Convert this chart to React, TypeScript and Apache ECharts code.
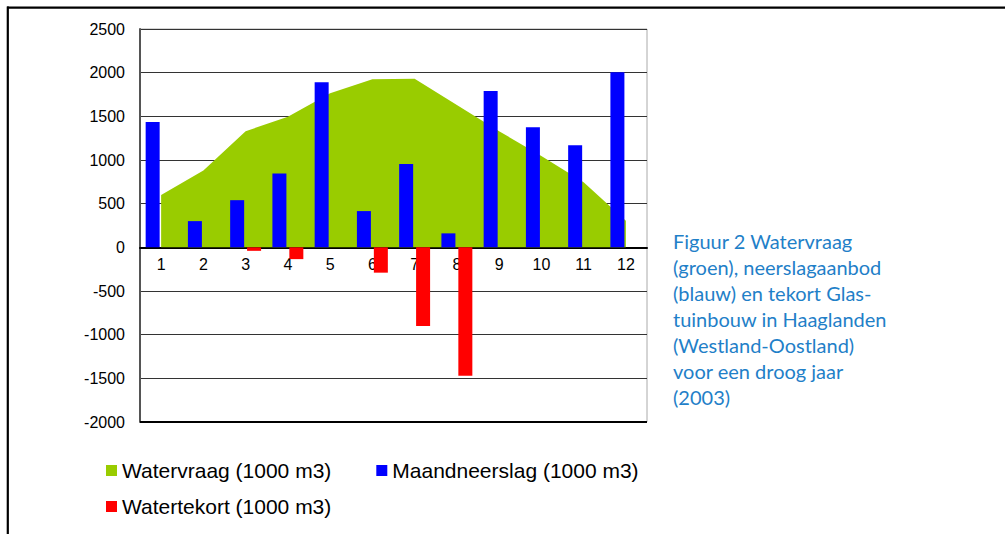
import React, { useEffect, useRef } from "react";
import * as echarts from "echarts";

const months = ["1", "2", "3", "4", "5", "6", "7", "8", "9", "10", "11", "12"];
const watervraag = [600, 880, 1330, 1495, 1765, 1925, 1930, 1630, 1330, 1045, 745, 305];
const maandneerslag = [1435, 300, 540, 845, 1890, 415, 955, 160, 1790, 1375, 1170, 2005];
const watertekort = [0, 0, -40, -135, 0, -290, -900, -1470, 0, 0, 0, 0];
const yMin = -2000;
const yMax = 2500;
const yStep = 500;
const seriesNames = ["Watervraag (1000 m3)", "Maandneerslag (1000 m3)", "Watertekort (1000 m3)"];
const captionLines = [
  "Figuur 2 Watervraag",
  "(groen), neerslagaanbod",
  "(blauw) en tekort Glas-",
  "tuinbouw in Haaglanden",
  "(Westland-Oostland)",
  "voor een droog jaar",
  "(2003)",
];

const FONT = "'Liberation Sans', Arial, sans-serif";

const GRID_TOP = 29;
const GRID_BOTTOM = 112;
const CHART_H = 534;

export default function App() {
  const ref = useRef<HTMLDivElement>(null);
  useEffect(() => {
    document.body.style.margin = "0";
    if (!ref.current) return;
    const chart = echarts.init(ref.current, null, { renderer: "svg" });
    const legendText = { fontSize: 21, fontFamily: FONT, color: "#000" };
    const plotH = CHART_H - GRID_TOP - GRID_BOTTOM;
    const zeroOffset = -(plotH * (0 - yMin)) / (yMax - yMin);
    chart.setOption({
      animation: false,
      backgroundColor: "#fff",
      grid: {
        left: 140,
        top: GRID_TOP,
        right: 358,
        bottom: GRID_BOTTOM,
        show: true,
        borderColor: "#aaa",
        borderWidth: 1,
        backgroundColor: "transparent",
      },
      legend: [
        {
          data: [seriesNames[0], seriesNames[1]],
          left: 101,
          top: 455,
          orient: "horizontal",
          icon: "rect",
          itemWidth: 11,
          itemHeight: 11,
          itemGap: 45,
          selectedMode: false,
          textStyle: legendText,
        },
        {
          data: [seriesNames[2]],
          left: 101,
          top: 491,
          orient: "horizontal",
          icon: "rect",
          itemWidth: 11,
          itemHeight: 11,
          selectedMode: false,
          textStyle: legendText,
        },
      ],
      xAxis: {
        type: "category",
        data: months,
        boundaryGap: true,
        position: "bottom",
        offset: zeroOffset,
        axisLine: { onZero: false, lineStyle: { color: "#000", width: 2 } },
        axisTick: { show: false },
        axisLabel: { fontSize: 16, fontFamily: FONT, color: "#000", margin: 9 },
        splitLine: { show: false },
      },
      yAxis: {
        type: "value",
        min: yMin,
        max: yMax,
        interval: yStep,
        axisLine: { show: true, lineStyle: { color: "#555", width: 2 } },
        axisTick: { show: false },
        axisLabel: {
          fontSize: 16,
          fontFamily: FONT,
          color: "#000",
          margin: 15,
          formatter: (v: number) => String(v),
        },
        splitLine: { show: true, lineStyle: { color: "#333", width: 1 } },
      },
      series: [
        {
          name: seriesNames[0],
          type: "line",
          data: watervraag,
          symbol: "none",
          z: 1,
          itemStyle: { color: "#99CC00" },
          lineStyle: { width: 0, color: "#99CC00" },
          areaStyle: { color: "#99CC00", opacity: 1 },
        },
        {
          name: seriesNames[1],
          type: "bar",
          data: maandneerslag,
          barWidth: 14,
          barGap: "21%",
          z: 3,
          itemStyle: { color: "#0000FF" },
        },
        {
          name: seriesNames[2],
          type: "bar",
          data: watertekort,
          barWidth: 14,
          barGap: "21%",
          z: 3,
          itemStyle: { color: "#FF0000" },
          markLine: {
            silent: true,
            symbol: "none",
            label: { show: false },
            lineStyle: { color: "#000", width: 2, type: "solid" },
            data: [{ yAxis: yMin }],
          },
        },
      ],
      graphic: [
        {
          type: "line",
          shape: { x1: 7, y1: 7.7, x2: 1005, y2: 7.7 },
          style: { stroke: "#000", lineWidth: 2.2 },
        },
        {
          type: "line",
          shape: { x1: 7.8, y1: 6.6, x2: 7.8, y2: 534 },
          style: { stroke: "#000", lineWidth: 2.2 },
        },
        {
          type: "text",
          left: 673,
          top: 228,
          style: {
            text: captionLines.join("\n"),
            fontSize: 20,
            lineHeight: 26,
            fontFamily: "Lato, 'Open Sans', sans-serif",
            fill: "#1F80C8",
          },
        },
      ],
    });
    return () => chart.dispose();
  }, []);
  return <div ref={ref} style={{ width: 1005, height: 534 }} />;
}
